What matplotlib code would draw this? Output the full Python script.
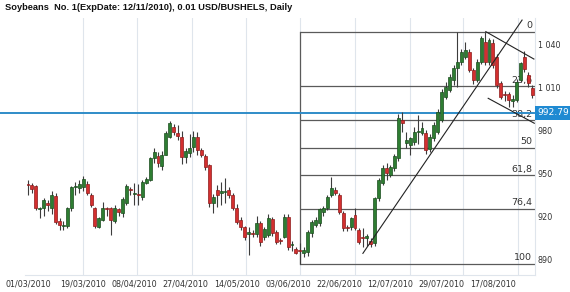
import numpy as np
import matplotlib
matplotlib.use("Agg")
import matplotlib.pyplot as plt
import matplotlib.transforms as mtrans

# ---------------- data ----------------
title = "Soybeans  No. 1(ExpDate: 12/11/2010), 0.01 USD/BUSHELS, Daily"

opens = [942.5, 942.3, 941.6, 925.5, 926.0, 929.5, 926.0, 934.9, 917.4, 913.5,
         913.7, 926.0, 941.0, 940.0, 940.7, 943.0, 935.3, 926.0, 913.2, 918.0,
         926.5, 926.0, 917.4, 925.3, 922.5, 929.5, 939.3, 936.0, 936.0, 934.2,
         943.9, 945.8, 960.9, 962.5, 955.6, 963.2, 976.0, 982.5, 978.3, 975.5,
         961.6, 964.5, 969.0, 976.0, 966.7, 962.5, 956.2, 929.5, 938.8, 937.0,
         937.5, 938.8, 935.4, 926.0, 917.9, 912.8, 908.4, 909.0, 908.1, 915.6,
         906.3, 907.4, 918.4, 909.8, 903.5, 906.3, 920.2, 900.2, 897.5, 896.5,
         895.1, 895.8, 908.6, 914.4, 915.6, 923.7, 926.0, 935.3, 938.8, 935.3,
         922.5, 913.0, 913.2, 921.4, 910.9, 906.3, 905.5, 903.5, 901.6, 933.0,
         943.5, 953.9, 949.3, 953.9, 960.9, 987.6, 971.4, 970.2, 972.5, 979.5,
         978.3, 978.3, 967.5, 975.0, 979.6, 987.7, 1004.0, 1008.7, 1015.6, 1023.8,
         1028.4, 1031.9, 1035.4, 1022.6, 1015.6, 1028.4, 1042.4, 1028.4, 1041.2, 1031.9,
         1013.3, 1006.0, 1006.0, 1001.0, 1001.6, 1015.6, 1031.5, 1019.1, 1009.8]
highs = [945.8, 944.0, 942.0, 927.0, 933.0, 932.0, 938.0, 937.0, 919.0, 917.0,
         927.0, 941.5, 944.5, 945.8, 948.6, 945.0, 937.0, 927.0, 920.0, 930.6,
         927.0, 927.0, 928.0, 926.0, 934.0, 943.0, 941.0, 944.0, 943.0, 945.5,
         948.0, 962.0, 968.0, 965.0, 966.0, 980.0, 987.0, 985.0, 984.0, 980.0,
         968.0, 978.0, 980.0, 979.0, 968.0, 964.0, 957.0, 936.0, 942.3, 944.6,
         946.9, 941.0, 937.0, 929.0, 920.0, 914.0, 912.8, 911.0, 921.0, 917.0,
         913.0, 922.0, 920.0, 911.0, 905.0, 922.0, 922.0, 903.0, 899.0, 902.0,
         899.0, 911.0, 918.0, 920.0, 926.5, 927.5, 935.0, 948.0, 941.0, 937.0,
         924.0, 914.5, 920.0, 926.0, 912.0, 912.0, 908.0, 905.0, 934.0, 947.0,
         956.0, 958.0, 956.0, 964.0, 992.0, 993.5, 979.5, 976.0, 983.0, 991.0,
         986.5, 981.0, 978.0, 986.0, 995.0, 1009.0, 1014.0, 1020.0, 1026.0, 1049.3,
         1037.0, 1042.4, 1037.0, 1024.0, 1030.0, 1046.0, 1049.3, 1045.0, 1044.0, 1034.0,
         1015.0, 1008.0, 1007.0, 1005.0, 1016.0, 1028.0, 1036.0, 1021.0, 1012.0]
lows = [935.3, 937.0, 924.9, 919.0, 921.0, 924.0, 922.0, 915.0, 911.0, 911.0,
        912.0, 924.5, 935.0, 937.0, 938.0, 935.0, 927.0, 912.0, 912.0, 917.0,
        921.0, 907.4, 916.0, 921.0, 920.0, 928.0, 935.0, 928.0, 928.0, 932.0,
        943.0, 945.0, 958.0, 955.0, 953.0, 963.0, 975.0, 977.0, 974.0, 957.0,
        958.0, 962.0, 965.0, 963.0, 962.0, 953.0, 927.0, 922.5, 927.2, 928.3,
        929.5, 933.0, 925.0, 915.0, 911.0, 904.0, 893.5, 906.0, 906.0, 900.0,
        904.0, 906.0, 907.0, 901.0, 901.0, 905.0, 897.0, 896.0, 894.0, 887.2,
        892.0, 893.0, 906.0, 913.0, 914.0, 921.0, 925.0, 934.0, 935.0, 922.0,
        910.0, 910.0, 911.0, 911.0, 901.0, 899.3, 900.0, 899.0, 900.0, 931.0,
        942.0, 946.0, 948.0, 952.0, 959.0, 979.5, 968.0, 963.0, 970.0, 971.0,
        977.0, 964.0, 965.0, 973.0, 978.0, 986.0, 1002.0, 1007.0, 1012.0, 1011.0,
        1026.0, 1030.0, 1021.0, 1013.0, 1014.0, 1027.0, 1026.0, 1026.0, 1024.0, 1010.0,
        1002.0, 1001.0, 997.0, 997.0, 1000.0, 1014.0, 1021.0, 1011.0, 1003.0]
closes = [942.0, 939.3, 926.0, 926.0, 931.8, 928.5, 935.5, 916.7, 914.4, 914.0,
          926.0, 940.7, 941.6, 942.8, 946.2, 936.5, 928.3, 913.7, 919.0, 926.0,
          925.5, 917.9, 926.0, 923.7, 932.3, 941.6, 938.5, 936.3, 935.5, 944.6,
          946.5, 960.9, 965.5, 957.4, 963.2, 978.3, 985.3, 979.5, 976.5, 962.0,
          966.0, 967.9, 976.0, 966.7, 963.2, 955.0, 929.5, 934.0, 935.3, 938.0,
          937.8, 935.3, 926.0, 916.7, 913.3, 906.3, 908.8, 908.2, 916.0, 902.8,
          911.4, 919.1, 908.6, 902.8, 903.0, 920.2, 899.3, 900.8, 895.1, 896.0,
          897.0, 909.8, 916.7, 917.9, 925.4, 926.0, 934.2, 939.9, 936.5, 923.7,
          912.1, 912.0, 919.0, 912.1, 902.8, 905.1, 906.5, 901.1, 933.0, 945.8,
          954.0, 950.4, 955.1, 962.5, 988.8, 985.3, 973.7, 974.8, 979.5, 980.0,
          981.8, 966.7, 976.0, 984.2, 993.5, 1007.5, 1011.0, 1018.0, 1023.8, 1028.4,
          1035.4, 1036.6, 1022.6, 1015.6, 1028.4, 1044.7, 1028.4, 1043.5, 1026.1, 1012.1,
          1004.0, 1005.0, 1001.7, 1002.0, 1014.4, 1027.2, 1023.5, 1013.3, 1005.1]

label_bars = [0, 14, 27, 40, 53, 66, 79, 92, 105, 118]
date_labels = ["01/03/2010", "19/03/2010", "08/04/2010", "27/04/2010", "14/05/2010",
               "03/06/2010", "22/06/2010", "12/07/2010", "29/07/2010", "17/08/2010"]
grid_bars = [0, 13.96, 27.66, 41.62, 55.33, 69.04, 83.0, 96.95, 110.4, 124.4]

y_ticks = [890, 920, 950, 980, 1010, 1040]
y_tick_labels = ["890", "920", "950", "980", "1 010", "1 040"]

# Fibonacci retracement (low bar -> high)
fib_start_bar = 69
fib_high = 1049.3
fib_low = 887.2
fib_ratios = [0.0, 0.236, 0.382, 0.5, 0.618, 0.764, 1.0]
fib_labels = ["0", "23,6", "38,2", "50", "61,8", "76,4", "100"]

# horizontal level
level_price = 992.79

# drawn trendlines (bar, price)
trend_main = ([85.0, 125.4], [894.6, 1057.4])
chan_upper = ([116.2, 128.4], [1049.3, 1030.2])
chan_lower = ([116.8, 128.5], [1002.8, 985.4])

# ---------------- figure ----------------
fig = plt.figure(figsize=(5.7, 2.92), dpi=100)
fig.patch.set_facecolor("white")
ax = fig.add_axes([25 / 570, 17 / 292, 510 / 570, 257 / 292])
ax.set_xlim(-0.76, 128.68)
ax.set_ylim(879.5, 1058.84)

n = len(opens)
idx = np.arange(n)
o = np.array(opens); c = np.array(closes); h = np.array(highs); l = np.array(lows)
up = c >= o

# fib lines
fib_levels = [fib_high - r * (fib_high - fib_low) for r in fib_ratios]
xr = ax.get_xlim()[1]
for lev, lab in zip(fib_levels, fib_labels):
    ax.plot([fib_start_bar, xr], [lev, lev], color="#5a5a5a", lw=0.9, zorder=2,
            solid_capstyle="butt")
    ax.annotate(lab, xy=(xr, lev), xytext=(-2, 1.2), textcoords="offset points",
                ha="right", va="bottom", fontsize=6.8, color="#333333", zorder=2)
ax.plot([fib_start_bar, fib_start_bar], [fib_low, fib_high], color="#5a5a5a",
        lw=0.9, zorder=2)

# blue level line extending to figure left
trans = mtrans.blended_transform_factory(ax.transAxes, ax.transData)
ax.plot([-25 / 510, 1.0], [level_price, level_price], transform=trans,
        color="#2f8cc8", lw=1.4, zorder=2, clip_on=False)
ax.text(1.0 + 2.5 / 510, level_price, f"{level_price:.2f}", transform=trans,
        ha="left", va="center", fontsize=6.6, color="white", zorder=6,
        bbox=dict(boxstyle="square,pad=0.28", fc="#1f8ad2", ec="none"), clip_on=False)

# candles
ax.vlines(idx, l, h, color="#3c3c3c", lw=0.8, zorder=3)
bottoms = np.minimum(o, c)
heights = np.maximum(np.abs(c - o), 0.8)
face = np.where(up, "#2e7d32", "#d32f2f")
edge = np.where(up, "#1b4d1e", "#8e1b1b")
ax.bar(idx, heights, bottom=bottoms, width=0.75, color=face, edgecolor=edge,
       linewidth=0.5, zorder=4)

# trendlines
for xs, ys in (trend_main, chan_upper, chan_lower):
    ax.plot(xs, ys, color="#222222", lw=0.8, zorder=5)

# axes styling
ax.set_xticks(grid_bars, minor=True)
ax.set_xticks(label_bars)
ax.set_xticklabels(date_labels, fontsize=5.8, color="#333333")
ax.grid(which="minor", axis="x", color="#dfe5ec", lw=0.8)
ax.tick_params(axis="x", which="both", length=0, pad=3)
ax.yaxis.tick_right()
ax.set_yticks(y_ticks)
ax.set_yticklabels(y_tick_labels, fontsize=5.8, color="#333333")
ax.tick_params(axis="y", length=0, pad=2)
for s in ("top", "left"):
    ax.spines[s].set_visible(False)
for s in ("bottom", "right"):
    ax.spines[s].set_color("#dfe5ec")
    ax.spines[s].set_linewidth(0.8)
ax.set_axisbelow(True)

fig.text(5 / 570, 1 - 2.5 / 292, title, fontfamily="Liberation Sans",
         fontweight="bold", fontsize=6.7, va="top", ha="left", color="#111111")

fig.savefig("out.png", dpi=100, facecolor="white")
